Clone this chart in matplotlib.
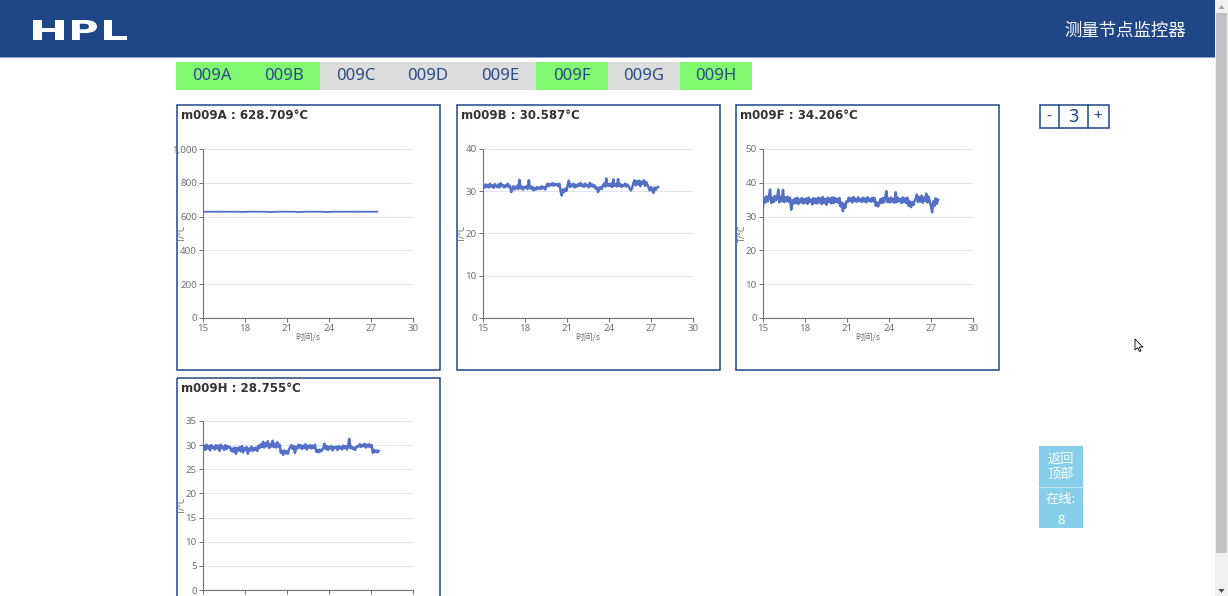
import numpy as np
import matplotlib
matplotlib.use('Agg')
import matplotlib.pyplot as plt
from matplotlib.patches import Rectangle, Polygon, PathPatch
from matplotlib.ticker import StrMethodFormatter
from matplotlib.textpath import TextPath
from matplotlib.font_manager import FontProperties
from matplotlib.transforms import Affine2D

plt.rcParams['font.family'] = ['Noto Sans', 'Noto Sans CJK SC', 'DejaVu Sans']

W, H = 1228, 596
NAVY = '#1f4788'
GREY = '#6e7079'
LINE = '#5470c6'
CJK = ['Noto Sans CJK SC', 'DejaVu Sans']

tabs = ['009A', '009B', '009C', '009D', '009E', '009F', '009G', '009H']
tabs_online = ['009A', '009B', '009F', '009H']

# readings per node (about 12 per second)
t009a_end = 27.45
v009a = [629.0, 628.6, 629.2, 628.8, 629.0, 628.4, 629.1, 627.5, 628.9, 629.0, 628.6, 629.2, 626.8,
         628.9, 629.1, 628.7, 629.0, 627.0, 628.8, 629.2, 628.9, 629.0, 626.9, 628.8, 629.1, 628.9,
         629.0, 628.7, 629.2, 628.8, 629.0, 628.9]

t009b_end = 27.5
v009b = [31.2, 30.8, 31.6, 31.0, 31.5, 30.9, 31.8, 31.1, 31.4, 30.8, 31.7, 31.2,
         31.0, 31.6, 30.9, 31.9, 31.2, 31.5, 30.9, 31.4, 31.1, 31.8, 31.0, 31.3,
         29.8, 30.6, 31.2, 30.4, 30.9, 31.3, 30.5, 32.7, 30.7, 31.1, 30.4, 31.0,
         30.8, 31.2, 30.5, 32.6, 30.9, 30.6, 31.1, 30.2, 30.8, 30.4, 31.0, 30.6,
         30.9, 30.5, 31.2, 30.7, 31.0, 30.4, 31.3, 31.8, 31.2, 31.7, 31.4, 31.9,
         31.3, 31.8, 31.5, 31.7, 31.2, 31.8, 30.2, 29.0, 30.4, 29.8, 30.6, 30.1,
         31.3, 32.5, 31.0, 31.6, 31.2, 31.8, 30.9, 31.5, 31.1, 31.7, 31.3, 32.0,
         31.2, 31.6, 31.0, 31.8, 31.3, 31.5, 30.9, 32.0, 31.2, 31.6, 31.0, 31.4,
         30.6, 30.9, 29.8, 30.7, 31.0, 30.5, 31.4, 31.8, 31.1, 33.0, 31.3, 31.7,
         31.2, 31.8, 31.0, 32.8, 31.3, 31.6, 31.1, 32.9, 31.2, 31.7, 31.0, 31.5,
         31.3, 31.8, 31.1, 31.6, 31.2, 30.6, 30.2, 30.8, 31.9, 32.6, 31.4, 32.4,
         31.6, 32.5, 31.2, 32.3, 31.8, 32.6, 31.3, 32.2, 31.5, 30.8, 30.2, 31.0,
         30.4, 29.6, 30.9, 30.3, 30.8, 31.0]

t009f_end = 27.5
v009f = [33.0, 35.5, 34.2, 36.0, 34.5, 35.8, 38.0, 34.0, 35.6, 34.3, 36.1, 34.8,
         35.5, 38.0, 34.2, 35.9, 34.6, 37.9, 34.3, 35.7, 34.5, 35.9, 34.4, 35.6,
         32.0, 34.8, 33.8, 35.3, 34.0, 35.6, 33.7, 35.1, 34.2, 35.5, 33.9, 35.2,
         34.1, 35.4, 33.8, 35.6, 34.3, 35.0, 33.6, 35.5, 34.0, 35.3, 33.9, 35.6,
         34.2, 35.4, 33.7, 35.8, 34.1, 35.2, 33.5, 35.6, 34.3, 35.4, 33.9, 35.7,
         34.0, 35.6, 34.3, 35.3, 34.1, 35.5, 33.0, 34.2, 31.6, 33.8, 32.6, 34.5,
         34.3, 35.6, 34.6, 35.4, 34.2, 35.8, 34.5, 35.3, 34.4, 35.7, 34.6, 35.2,
         34.3, 35.6, 34.5, 35.4, 34.2, 35.7, 34.6, 35.3, 34.4, 35.6, 34.5, 35.5,
         33.2, 34.2, 33.0, 34.0, 35.2, 34.0, 35.5, 34.2, 35.6, 37.5, 34.3, 35.4,
         34.2, 35.6, 34.4, 35.3, 34.1, 37.2, 34.3, 35.6, 34.5, 35.2, 34.0, 35.7,
         34.3, 35.4, 34.0, 35.6, 33.2, 34.5, 32.8, 34.3, 33.4, 34.6, 35.2, 36.5,
         34.3, 35.8, 34.5, 36.2, 34.1, 35.6, 34.6, 36.8, 34.2, 35.9, 34.4, 33.2,
         31.3, 34.5, 33.2, 35.4, 33.8, 35.0]

t009h_end = 27.55
v009h = [29.2, 29.9, 29.0, 30.1, 29.3, 29.8, 28.9, 30.0, 29.4, 29.7, 29.1, 30.0,
         29.3, 29.9, 28.8, 30.1, 29.4, 29.7, 29.0, 30.0, 29.2, 29.8, 29.5, 29.6,
         28.8, 29.3, 28.6, 29.5, 28.2, 29.4, 28.9, 29.6, 28.7, 29.8, 28.5, 29.4,
         29.0, 29.6, 28.2, 29.3, 28.9, 29.7, 28.8, 29.4, 29.0, 29.5, 28.8, 29.9,
         29.4, 30.2, 29.6, 30.7, 29.5, 30.4, 29.8, 30.8, 29.4, 30.2, 29.7, 30.9,
         29.6, 30.3, 29.5, 30.6, 29.7, 30.1, 28.4, 28.8, 28.0, 28.9, 28.3, 28.7,
         28.2, 29.2, 29.6, 30.0, 29.2, 29.8, 28.4, 29.7, 29.3, 30.1, 29.5, 30.0,
         29.2, 29.9, 29.4, 30.2, 29.1, 29.8, 29.5, 30.0, 29.3, 29.9, 29.4, 30.1,
         28.6, 29.0, 28.5, 29.1, 28.7, 29.0, 29.4, 30.3, 29.2, 29.8, 29.0, 29.7,
         29.3, 29.8, 28.9, 29.6, 29.4, 29.7, 29.0, 29.8, 29.3, 29.6, 29.1, 29.9,
         29.4, 29.8, 29.1, 29.6, 31.3, 29.4, 29.7, 29.2, 29.5, 29.0, 29.6, 29.8,
         29.7, 30.2, 29.6, 30.0, 29.8, 30.3, 29.5, 30.1, 29.7, 30.2, 29.6, 30.0,
         28.4, 29.0, 28.6, 28.9, 28.5, 28.8]

titles = ['m009A : 628.709°C', 'm009B : 30.587°C', 'm009F : 34.206°C', 'm009H : 28.755°C']
ymax = [1000, 40, 50, 35]
ystep = [200, 10, 10, 5]
series = [(v009a, t009a_end), (v009b, t009b_end), (v009f, t009f_end), (v009h, t009h_end)]

fig = plt.figure(figsize=(W / 100, H / 100), dpi=100)
bg = fig.add_axes([0, 0, 1, 1])
bg.set_xlim(0, W)
bg.set_ylim(H, 0)
bg.axis('off')

# header
bg.add_patch(Rectangle((0, 0), 1215, 57, color=NAVY, lw=0))
bg.add_patch(Rectangle((0, 57), 1215, 1.2, color='#8ea2c9', lw=0))

# logo letters, each squeezed into its box (left, right, top, bottom)
logo_fp = FontProperties(family='DejaVu Sans', weight='heavy')
for ch, (l, r, top, bot) in zip('HPL', [(33, 64, 20, 40), (72, 97, 20, 40), (104, 127, 20, 40)]):
    tp = TextPath((0, 0), ch, size=30, prop=logo_fp)
    ext = tp.get_extents()
    sx = (r - l) / ext.width
    sy = (bot - top) / ext.height
    tr = Affine2D().translate(-ext.x0, -ext.y0).scale(sx, -sy).translate(l, bot)
    bg.add_patch(PathPatch(tr.transform_path(tp), fc='white', lw=0))

bg.text(1125, 30.5, '测量节点监控器', color='white', fontsize=12.5, family=CJK,
        ha='center', va='center')

# node tabs
for i, name in enumerate(tabs):
    x0 = 176 + i * 72
    c = '#80f870' if name in tabs_online else '#dcdcdc'
    bg.add_patch(Rectangle((x0, 62), 72, 28, color=c, lw=0))
    bg.text(x0 + 36, 76.5, name, color='#2b4a87', fontsize=12, ha='center', va='center')

# chart boxes
boxes = [(176, 104), (456, 104), (735, 104), (176, 377)]
for (bx, by), title in zip(boxes, titles):
    bg.add_patch(Rectangle((bx + 0.5, by + 0.5), 263, 265, fill=False, ec=NAVY, lw=1.1))
    bg.text(bx + 5, by + 15, title, color='#333333', fontsize=8.5, fontweight='bold',
            family='DejaVu Sans', ha='left', va='baseline')

# zoom control
bg.add_patch(Rectangle((1039.5, 105), 69, 23, fill=False, ec=NAVY, lw=1.1))
bg.plot([1059, 1059], [105, 128], color=NAVY, lw=1.1)
bg.plot([1088, 1088], [105, 128], color=NAVY, lw=1.1)
bg.text(1049, 117, '-', color=NAVY, fontsize=11, ha='center', va='center')
bg.text(1073.5, 117, '3', color=NAVY, fontsize=13, ha='center', va='center')
bg.text(1098, 117, '+', color=NAVY, fontsize=11, ha='center', va='center')

# side buttons
bg.add_patch(Rectangle((1039, 446), 44, 82, color='#87ceeb', lw=0))
bg.plot([1039, 1083], [487, 487], color='#c9e6f2', lw=0.8)
bg.text(1061, 459, '返回', color='white', fontsize=9.5, family=CJK, ha='center', va='center')
bg.text(1061, 475, '顶部', color='white', fontsize=9.5, family=CJK, ha='center', va='center')
bg.text(1061, 500, '在线:', color='white', fontsize=9.5, family=CJK, ha='center', va='center')
bg.text(1061, 520, '8', color='white', fontsize=9.5, ha='center', va='center')

# scrollbar
bg.add_patch(Rectangle((1215, 0), 13, H, color='#f1f1f1', lw=0))
bg.add_patch(Rectangle((1216, 13), 11, 540, color='#c1c1c1', lw=0))
bg.add_patch(Polygon([(1218.5, 9), (1224.5, 9), (1221.5, 5)], color='#a3a3a3', lw=0))
bg.add_patch(Polygon([(1218.5, 589), (1224.5, 589), (1221.5, 593)], color='#505050', lw=0))

# mouse pointer
cx, cy = 1135, 339
bg.add_patch(Polygon([(cx, cy), (cx, cy + 11), (cx + 2.6, cy + 8.6), (cx + 4.4, cy + 12.5),
                      (cx + 6, cy + 11.8), (cx + 4.2, cy + 8), (cx + 7.8, cy + 8)],
                     fc='white', ec='black', lw=0.6))

# the four temperature charts
plot_pos = [(203, 149), (483, 149), (763, 149), (203, 421)]
for k, ((px, py), (vals, t_end), top, step) in enumerate(zip(plot_pos, series, ymax, ystep)):
    ax = fig.add_axes([px / W, 1 - (py + 169) / H, 210 / W, 169 / H])
    t = np.linspace(15, t_end, len(vals))
    ax.plot(t, vals, color=LINE, lw=1.8 if k else 1.3, zorder=3)
    ax.set_xlim(15, 30)
    ax.set_ylim(0, top)
    ax.set_xticks([15, 18, 21, 24, 27, 30])
    ax.set_yticks(np.arange(0, top + step, step))
    ax.yaxis.set_major_formatter(StrMethodFormatter('{x:,.0f}'))
    ax.grid(axis='y', color='#e0e6f1', lw=0.8)
    ax.set_axisbelow(True)
    for s in ['top', 'right']:
        ax.spines[s].set_visible(False)
    for s in ['left', 'bottom']:
        ax.spines[s].set_color(GREY)
        ax.spines[s].set_linewidth(0.8)
    ax.tick_params(colors=GREY, labelsize=7, length=3.2, width=0.7, pad=1.2)
    ax.patch.set_alpha(0)
    ax.text(-0.1, 0.5, 'T/°C', transform=ax.transAxes, rotation=90, color=GREY,
            fontsize=6.3, ha='center', va='center')
    if k < 3:
        ax.text(0.5, -0.112, '时间/s', transform=ax.transAxes, color=GREY, fontsize=6.3,
                family=CJK, ha='center', va='center')
    else:
        # the bottom chart runs past the page edge, its time labels fall below it
        ax.tick_params(axis='x', labelbottom=False)

fig.savefig('out.png', dpi=100)
